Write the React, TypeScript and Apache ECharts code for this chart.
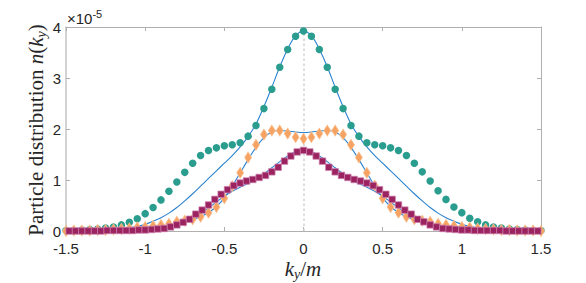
import React, { useEffect, useRef } from "react";
import * as echarts from "echarts";

// x grids (k_y / m)
const kyA = [
  -1.5, -1.45, -1.4, -1.35, -1.3, -1.25, -1.2, -1.15, -1.1, -1.05,
  -1, -0.95, -0.9, -0.85, -0.8, -0.75, -0.7, -0.65, -0.6, -0.55,
  -0.5, -0.45, -0.4, -0.35, -0.3, -0.25, -0.2, -0.15, -0.1, -0.05,
  0,
  0.05, 0.1, 0.15, 0.2, 0.25, 0.3, 0.35, 0.4, 0.45, 0.5,
  0.55, 0.6, 0.65, 0.7, 0.75, 0.8, 0.85, 0.9, 0.95, 1,
  1.05, 1.1, 1.15, 1.2, 1.25, 1.3, 1.35, 1.4, 1.45, 1.5,
];
const kyB = [
  -1.48, -1.44, -1.4, -1.36, -1.32, -1.28, -1.24, -1.2, -1.16, -1.12,
  -1.08, -1.04, -1, -0.96, -0.92, -0.88, -0.84, -0.8, -0.76, -0.72,
  -0.68, -0.64, -0.6, -0.56, -0.52, -0.48, -0.44, -0.4, -0.36, -0.32,
  -0.28, -0.24, -0.2, -0.16, -0.12, -0.08, -0.04,
  0,
  0.04, 0.08, 0.12, 0.16, 0.2, 0.24, 0.28, 0.32, 0.36, 0.4,
  0.44, 0.48, 0.52, 0.56, 0.6, 0.64, 0.68, 0.72, 0.76, 0.8,
  0.84, 0.88, 0.92, 0.96, 1, 1.04, 1.08, 1.12, 1.16, 1.2,
  1.24, 1.28, 1.32, 1.36, 1.4, 1.44, 1.48,
];

// values in units of 1e-5
const circles = [
  0.01, 0.01, 0.02, 0.03, 0.04, 0.06, 0.08, 0.12, 0.17, 0.24,
  0.34, 0.46, 0.61, 0.78, 0.96, 1.15, 1.33, 1.48, 1.58, 1.63,
  1.67, 1.69, 1.73, 1.86, 2.07, 2.4, 2.78, 3.21, 3.56, 3.82,
  3.92,
  3.82, 3.56, 3.21, 2.78, 2.4, 2.07, 1.86, 1.73, 1.69, 1.67,
  1.63, 1.58, 1.48, 1.33, 1.16, 0.98, 0.79, 0.62, 0.47, 0.36,
  0.25, 0.18, 0.12, 0.08, 0.06, 0.04, 0.03, 0.02, 0.01, 0.01,
];
const diamonds = [
  0.0, 0.01, 0.01, 0.01, 0.02, 0.02, 0.03, 0.04, 0.05, 0.07,
  0.08, 0.1, 0.12, 0.14, 0.18, 0.2, 0.23, 0.28, 0.36, 0.47,
  0.64, 0.88, 1.14, 1.44, 1.69, 1.89, 1.97, 1.97, 1.91, 1.84,
  1.81,
  1.84, 1.91, 1.97, 1.97, 1.89, 1.69, 1.44, 1.14, 0.89, 0.64,
  0.47, 0.36, 0.28, 0.23, 0.2, 0.18, 0.14, 0.12, 0.1, 0.08,
  0.07, 0.05, 0.04, 0.03, 0.02, 0.02, 0.01, 0.01, 0.01, 0.0,
];
const squares = [
  0, 0, 0, 0, 0, 0, 0.01, 0.01, 0.01, 0.01,
  0.01, 0.02, 0.02, 0.03, 0.04, 0.05, 0.08, 0.12, 0.17, 0.23,
  0.33, 0.41, 0.51, 0.62, 0.72, 0.81, 0.89, 0.94, 0.98, 1.01,
  1.05, 1.09, 1.16, 1.25, 1.37, 1.47, 1.55,
  1.58,
  1.55, 1.47, 1.37, 1.25, 1.16, 1.09, 1.05, 1.01, 0.98, 0.94,
  0.89, 0.81, 0.72, 0.62, 0.51, 0.41, 0.33, 0.23, 0.18, 0.12,
  0.08, 0.05, 0.04, 0.03, 0.02, 0.02, 0.01, 0.01, 0.01, 0.01,
  0.01, 0, 0, 0, 0, 0, 0,
];
const curve1 = [
  0.001, 0.002, 0.003, 0.005, 0.01, 0.015, 0.025, 0.04, 0.06, 0.09,
  0.13, 0.19, 0.26, 0.35, 0.46, 0.59, 0.73, 0.88, 1.03, 1.18,
  1.33, 1.48, 1.65, 1.85, 2.1, 2.44, 2.82, 3.22, 3.57, 3.83,
  3.92,
  3.83, 3.57, 3.22, 2.82, 2.44, 2.1, 1.85, 1.65, 1.48, 1.33,
  1.18, 1.03, 0.88, 0.73, 0.59, 0.46, 0.35, 0.26, 0.19, 0.13,
  0.09, 0.06, 0.04, 0.025, 0.015, 0.01, 0.005, 0.003, 0.002, 0.001,
];
const curve2 = [
  0.001, 0.002, 0.003, 0.005, 0.008, 0.01, 0.015, 0.02, 0.03, 0.04,
  0.05, 0.06, 0.08, 0.1, 0.13, 0.17, 0.22, 0.28, 0.36, 0.48,
  0.65, 0.88, 1.14, 1.4, 1.64, 1.83, 1.94, 1.97, 1.96, 1.94,
  1.93,
  1.94, 1.96, 1.97, 1.94, 1.83, 1.64, 1.4, 1.14, 0.88, 0.65,
  0.48, 0.36, 0.28, 0.22, 0.17, 0.13, 0.1, 0.08, 0.06, 0.05,
  0.04, 0.03, 0.02, 0.015, 0.01, 0.008, 0.005, 0.003, 0.002, 0.001,
];
const curve3 = [
  0, 0, 0, 0.001, 0.003, 0.005, 0.008, 0.01, 0.015, 0.02,
  0.03, 0.04, 0.06, 0.08, 0.12, 0.17, 0.24, 0.33, 0.45, 0.57,
  0.68, 0.78, 0.86, 0.93, 1.01, 1.12, 1.24, 1.36, 1.47, 1.56,
  1.6,
  1.56, 1.47, 1.36, 1.24, 1.12, 1.01, 0.93, 0.86, 0.78, 0.68,
  0.57, 0.45, 0.33, 0.24, 0.17, 0.12, 0.08, 0.06, 0.04, 0.03,
  0.02, 0.015, 0.01, 0.008, 0.005, 0.003, 0.001, 0, 0, 0,
];

const SERIF = "'Liberation Serif', 'DejaVu Serif', serif";
const SANS = "'Liberation Sans', Arial, sans-serif";
const AX = "#b0b0b0";
const TXT = "#262626";

export default function App() {
  const ref = useRef<HTMLDivElement>(null);
  useEffect(() => {
    document.body.style.margin = "0";
    const chart = echarts.init(ref.current!, null, { renderer: "svg" });
    const pair = (xs: number[], ys: number[]) => xs.map((x, i) => [x, ys[i]]);
    const lineSeries = (data: number[], extra: any = {}) => ({
      type: "line",
      data: pair(kyA, data),
      showSymbol: false,
      smooth: 0.3,
      lineStyle: { color: "#2c83cf", width: 1.1 },
      z: 2,
      ...extra,
    });
    const richSerif = {
      r: { fontFamily: SERIF, fontSize: 21, lineHeight: 24, fill: TXT },
      i: { fontFamily: SERIF, fontSize: 21, fontStyle: "italic", lineHeight: 24, fill: TXT },
      s: { fontFamily: SERIF, fontSize: 14, fontStyle: "italic", lineHeight: 14, verticalAlign: "bottom", fill: TXT },
    };
    const axisCommon = (color: string, width: number) => ({
      axisLine: { show: true, onZero: false, lineStyle: { color, width } },
      axisTick: { show: true, inside: true, length: 4, lineStyle: { color: AX } },
      splitLine: { show: false },
    });
    chart.setOption({
      animation: false,
      grid: { left: 66, right: 45, top: 27, bottom: 52 },
      xAxis: [
        {
          type: "value",
          min: -1.5,
          max: 1.5,
          interval: 0.5,
          ...axisCommon(AX, 1),
          axisLabel: { color: TXT, fontSize: 15, fontFamily: SANS, margin: 10 },
        },
        {
          type: "value",
          position: "top",
          min: -1.5,
          max: 1.5,
          interval: 0.5,
          ...axisCommon(AX, 1),
          axisLabel: { show: false },
        },
      ],
      yAxis: [
        {
          type: "value",
          min: 0,
          max: 4,
          interval: 1,
          ...axisCommon("#c4c4c4", 1.5),
          axisLabel: { color: TXT, fontSize: 15, fontFamily: SANS, margin: 5 },
        },
        {
          type: "value",
          position: "right",
          min: 0,
          max: 4,
          interval: 1,
          ...axisCommon(AX, 1),
          axisLabel: { show: false },
        },
      ],
      series: [
        lineSeries(curve1, {
          markLine: {
            silent: true,
            symbol: "none",
            label: { show: false },
            lineStyle: { color: "#d2d2d2", type: [2.5, 2.5], width: 1.5 },
            data: [{ xAxis: 0 }],
            z: 1,
          },
        }),
        lineSeries(curve2),
        lineSeries(curve3),
        {
          type: "scatter",
          data: pair(kyA, circles),
          symbol: "circle",
          symbolSize: 7.5,
          clip: false,
          itemStyle: { color: "#2a9d8f", opacity: 1 },
          z: 3,
        },
        {
          type: "scatter",
          data: pair(kyA, diamonds),
          symbol: "diamond",
          symbolSize: [7, 11],
          clip: false,
          itemStyle: { color: "#f5a263", opacity: 1, borderColor: "rgba(250,190,140,0.9)", borderWidth: 0.8 },
          z: 4,
        },
        {
          type: "scatter",
          data: pair(kyB, squares),
          symbol: "rect",
          symbolSize: 6.5,
          clip: false,
          itemStyle: { color: "#9b2360", opacity: 1, borderColor: "rgba(205,130,175,0.9)", borderWidth: 0.8 },
          z: 5,
        },
      ],
      graphic: [
        {
          type: "text",
          x: 36,
          y: 130,
          rotation: Math.PI / 2,
          style: {
            text: "{r|Particle distribution }{i|n}{r|(}{i|k}{s|y}{r|)}",
            align: "center",
            verticalAlign: "middle",
            fill: TXT,
            rich: richSerif,
          },
        },
        {
          type: "text",
          x: 303,
          y: 269,
          style: {
            text: "{i|k}{s|y}{r|/}{i|m}",
            align: "center",
            verticalAlign: "middle",
            fill: TXT,
            rich: richSerif,
          },
        },
        {
          type: "text",
          x: 67,
          y: 18,
          style: {
            text: "{m|×10}{p|-5}",
            align: "left",
            verticalAlign: "middle",
            fill: TXT,
            rich: {
              m: { fontFamily: SANS, fontSize: 15, lineHeight: 20, fill: TXT },
              p: { fontFamily: SANS, fontSize: 11, lineHeight: 11, verticalAlign: "top", fill: TXT },
            },
          },
        },
      ],
    });
    return () => chart.dispose();
  }, []);
  return <div ref={ref} style={{ width: 586, height: 283 }} />;
}
